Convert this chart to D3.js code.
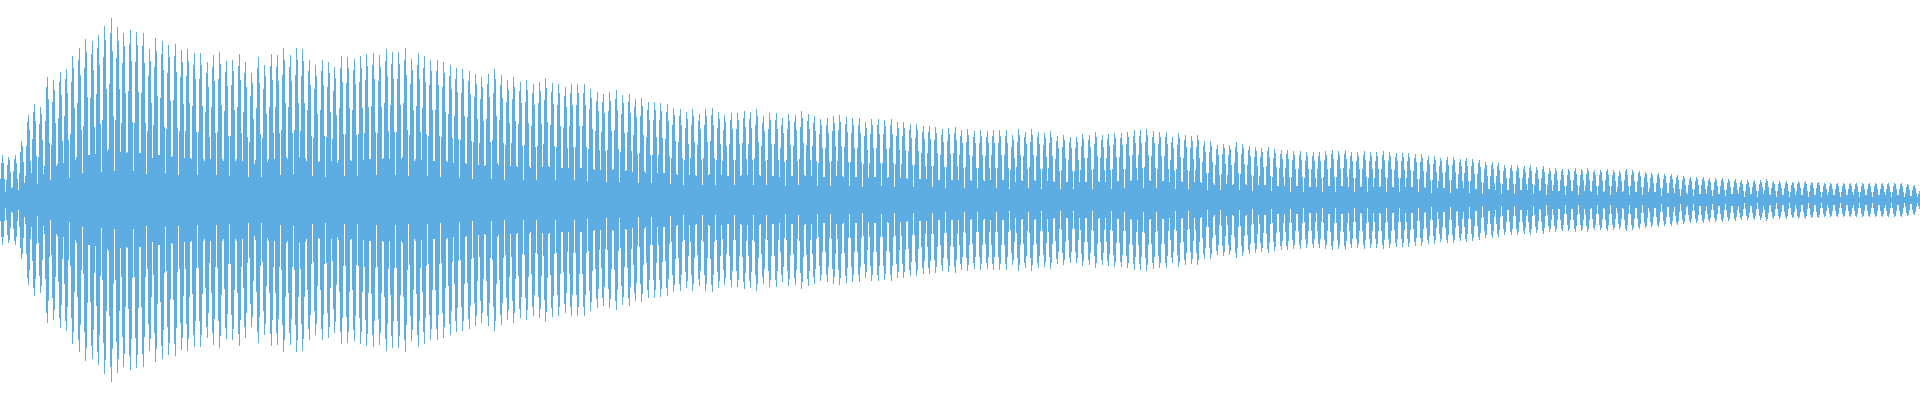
<!DOCTYPE html>
<html>
<head>
<meta charset="utf-8">
<script src="https://cdn.jsdelivr.net/npm/d3@7"></script>
<style>
  html, body { margin: 0; padding: 0; background: #fff; overflow: hidden; }
  svg { display: block; }
</style>
</head>
<body>
<svg id="wave"></svg>
<script>
// peak level of every beat (left to right)
var beatPeaks = [
  45, 43, 45, 59, 85, 96, 93, 123, 120, 128, 131, 144, 152, 161, 159, 165, 174, 182, 173, 167,
  170, 168, 167, 151, 162, 159, 155, 156, 150, 151, 147, 147, 138, 145, 148, 139, 140, 146, 138, 127,
  143, 135, 146, 145, 152, 145, 152, 151, 140, 135,
  140, 138, 133, 144, 143, 141, 144, 146, 147, 145, 151, 148, 148, 152, 141, 147, 144, 140, 140, 138,
  135, 132, 131, 129, 126, 123, 126, 131, 125, 120, 123, 118, 120, 116, 118, 122, 117, 116, 113, 116,
  116, 116, 111, 108, 106, 108, 110, 105, 106, 101,
  102, 98, 98, 97, 96, 92, 91, 88, 91, 86, 91, 92, 88, 85, 87, 87, 89, 88, 91, 84,
  87, 87, 82, 86, 85, 89, 86, 84, 81, 82, 84, 85, 83, 82, 82, 78, 81, 81, 80, 81,
  78, 78, 76, 76, 74, 74, 73, 71, 72, 73,
  70, 71, 69, 70, 69, 70, 70, 70, 65, 71, 68, 71, 68, 67, 69, 64, 65, 63, 63, 66,
  65, 68, 65, 66, 67, 67, 68, 70, 70, 71, 69, 68, 68, 63, 67, 65, 64, 65, 59, 59,
  55, 56, 55, 58, 56, 54, 53, 52, 53, 51,
  50, 50, 49, 49, 48, 48, 48, 49, 50, 49, 50, 48, 48, 49, 48, 48, 49, 48, 47, 47,
  47, 46, 46, 44, 44, 42, 43, 43, 41, 42, 41, 40, 38, 38, 37, 35, 35, 35, 34, 35,
  33, 34, 32, 32, 31, 31, 32, 31, 32, 30,
  30, 31, 30, 29, 31, 30, 29, 28, 27, 27, 26, 26, 25, 24, 23, 23, 23, 22, 22, 22,
  21, 21, 20, 20, 20, 20, 21, 19, 19, 19, 18, 19, 19, 18, 18, 17, 17, 17, 17, 17,
  17, 17, 17, 17, 17, 17, 17, 17, 16, 15,
  10
];

// relative level of a column by its distance from the beat peak (half-sample steps)
var beatProfile = [1.00, 0.92, 0.82, 0.64, 0.46, 0.28, 0.17];

var firstBeat = 2, samplesPerBeat = 6.393, sampleCount = 1920;

var width = 1920, height = 400;
var svg = d3.select("#wave").attr("width", width).attr("height", height);

var x = d3.scaleLinear().domain([0, sampleCount]).range([0, width]);
var y = d3.scaleLinear().domain([-200, 200]).range([height, 0]);

var columns = d3.range(sampleCount).map(function (c) {
	var k = Math.round((c - firstBeat) / samplesPerBeat);
	k = Math.max(0, Math.min(beatPeaks.length - 1, k));
	var d = Math.abs(c - (firstBeat + k * samplesPerBeat));
	var idx = Math.min(beatProfile.length - 1, Math.floor(d * 2));
	return { c: c, v: beatPeaks[k] * beatProfile[idx] };
});

svg.append("g")
	.selectAll("rect")
	.data(columns)
	.enter()
	.append("rect")
	.attr("x", d => x(d.c))
	.attr("width", d => x(d.c + 1) - x(d.c))
	.attr("y", d => y(d.v))
	.attr("height", d => Math.max(1, y(-d.v) - y(d.v)))
	.attr("fill", "#5dade2")
	.attr("shape-rendering", "crispEdges");
</script>
</body>
</html>
